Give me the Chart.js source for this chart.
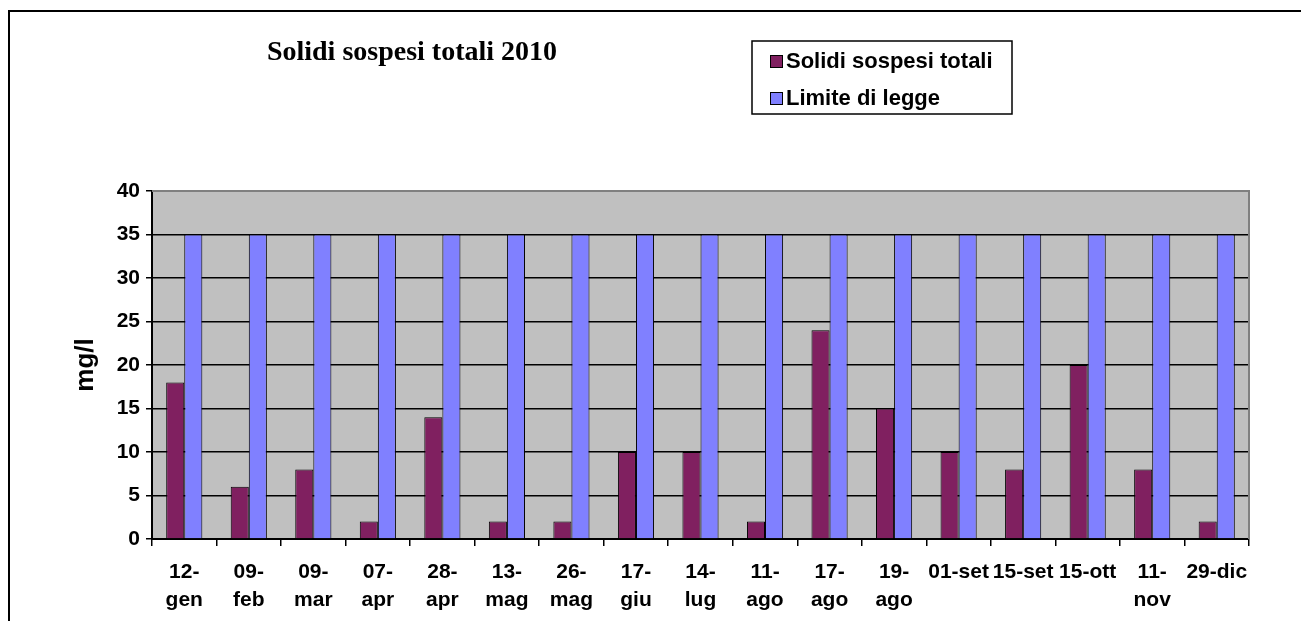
<!DOCTYPE html>
<html>
<head>
<meta charset="utf-8">
<script src="https://cdn.jsdelivr.net/npm/chart.js@4"></script>
<style>
html,body{margin:0;padding:0;background:#fff;}
#wrap{position:relative;width:1301px;height:621px;}
</style>
</head>
<body>
<div id="wrap"><canvas id="c"></canvas></div>
<script>
const categories = [
  ['12-','gen'],['09-','feb'],['09-','mar'],['07-','apr'],['28-','apr'],['13-','mag'],
  ['26-','mag'],['17-','giu'],['14-','lug'],['11-','ago'],['17-','ago'],['19-','ago'],
  '01-set','15-set','15-ott',['11-','nov'],'29-dic'
];
const solidiValues = [18, 6, 8, 2, 14, 2, 2, 10, 10, 2, 24, 15, 10, 8, 20, 8, 2];
const limiteValues = [35, 35, 35, 35, 35, 35, 35, 35, 35, 35, 35, 35, 35, 35, 35, 35, 35];
const seriesNames = ['Solidi sospesi totali', 'Limite di legge'];
const chartTitle = 'Solidi sospesi totali 2010';
const yAxisTitle = 'mg/l';
const yMin = 0, yMax = 40, yStep = 5;

const colMaroon = '#802060';
const colBlue = '#8080FF';

const decor = {
  id: 'decor',
  beforeDraw(chart) {
    const ctx = chart.ctx, a = chart.chartArea;
    ctx.save();
    ctx.fillStyle = '#fff';
    ctx.fillRect(0, 0, chart.width, chart.height);
    ctx.fillStyle = '#C0C0C0';
    ctx.fillRect(a.left, a.top, a.right - a.left, a.bottom - a.top);
    ctx.restore();
  },
  afterDraw(chart) {
    const ctx = chart.ctx, a = chart.chartArea;
    ctx.save();
    ctx.strokeStyle = '#808080';
    ctx.lineWidth = 2;
    ctx.beginPath();
    ctx.moveTo(a.left, a.top);
    ctx.lineTo(a.right, a.top);
    ctx.lineTo(a.right, a.bottom);
    ctx.stroke();
    ctx.strokeStyle = '#000';
    ctx.lineWidth = 2;
    ctx.strokeRect(9, 11, 1400, 800);
    ctx.fillStyle = '#000';
    ctx.font = 'bold 28px "Liberation Serif", "Times New Roman", serif';
    ctx.textAlign = 'center';
    ctx.textBaseline = 'alphabetic';
    ctx.fillText(chartTitle, 412, 60);
    ctx.lineWidth = 1.5;
    ctx.strokeStyle = '#000';
    ctx.fillStyle = '#fff';
    ctx.fillRect(752, 41, 260, 73);
    ctx.strokeRect(752, 41, 260, 73);
    const ds = chart.data.datasets;
    const rowsY = [61, 98];
    ctx.font = 'bold 22px "Liberation Sans", Arial, sans-serif';
    ctx.textAlign = 'left';
    ctx.textBaseline = 'middle';
    ds.forEach((d, i) => {
      ctx.fillStyle = d.backgroundColor;
      ctx.fillRect(770, rowsY[i] - 6, 12, 12);
      ctx.lineWidth = 1;
      ctx.strokeStyle = '#000';
      ctx.strokeRect(770.5, rowsY[i] - 5.5, 12, 12);
      ctx.fillStyle = '#000';
      ctx.fillText(d.label, 786, rowsY[i] + 1);
    });
    ctx.restore();
  }
};

new Chart(document.getElementById('c'), {
  type: 'bar',
  data: {
    labels: categories,
    datasets: [
      { label: seriesNames[0], data: solidiValues, backgroundColor: colMaroon, borderColor: '#000', borderWidth: 1 },
      { label: seriesNames[1], data: limiteValues, backgroundColor: colBlue, borderColor: '#000', borderWidth: 1 }
    ]
  },
  options: {
    responsive: true,
    maintainAspectRatio: false,
    devicePixelRatio: 1,
    animation: false,
    layout: { padding: { top: 191, right: 52, left: 0, bottom: 0 } },
    datasets: { bar: { categoryPercentage: 0.56, barPercentage: 1 } },
    plugins: { legend: { display: false }, title: { display: false }, tooltip: { enabled: false } },
    scales: {
      x: {
        offset: true,
        grid: { offset: true, drawOnChartArea: false, drawTicks: true, tickLength: 7, color: '#000', lineWidth: 1.5 },
        border: { display: true, color: '#000', width: 2 },
        ticks: {
          color: '#000', padding: 12, maxRotation: 0, autoSkip: false,
          font: { family: '"Liberation Sans", Arial, sans-serif', size: 21, weight: 'bold', lineHeight: 1.35 }
        },
        afterFit(s) { s.height = 82; }
      },
      y: {
        min: yMin, max: yMax,
        ticks: {
          stepSize: yStep, color: '#000', padding: 6,
          font: { family: '"Liberation Sans", Arial, sans-serif', size: 21, weight: 'bold' }
        },
        grid: {
          color: (c) => (c.tick && c.tick.value === yMax) ? 'rgba(0,0,0,0)' : '#000',
          lineWidth: 1.5, tickLength: 6, tickColor: '#000', drawTicks: true
        },
        border: { display: true, color: '#000', width: 2 },
        title: {
          display: true, text: yAxisTitle, color: '#000',
          font: { family: '"Liberation Sans", Arial, sans-serif', size: 26, weight: 'bold' },
          padding: { top: 70, bottom: 0 }
        },
        afterFit(s) { s.width = 152; }
      }
    }
  },
  plugins: [decor]
});
</script>
</body>
</html>
